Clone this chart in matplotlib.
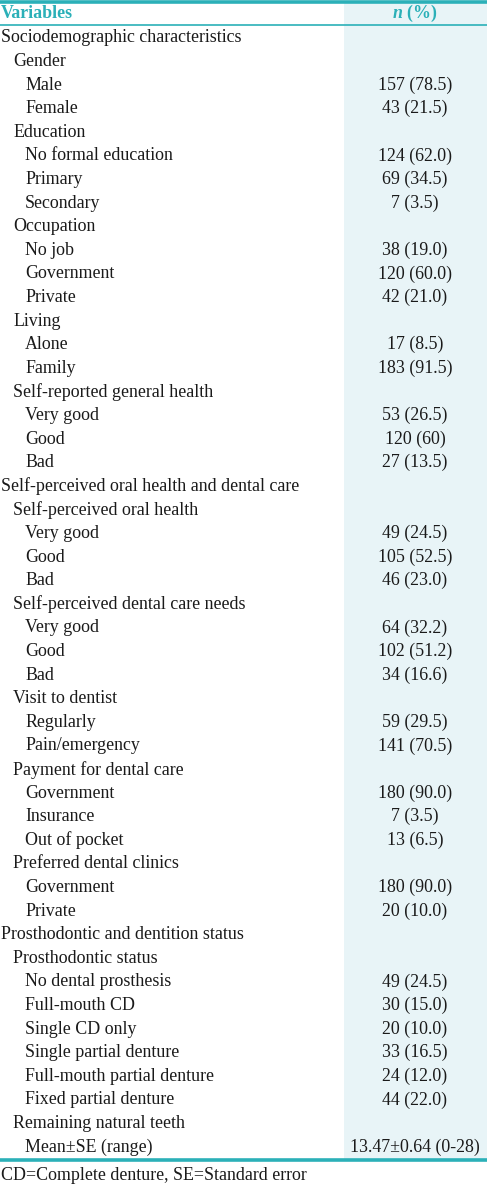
"""Table: sociodemographic, oral health and prosthodontic characteristics."""

import matplotlib

matplotlib.use("Agg")
import matplotlib.pyplot as plt  # noqa: E402

plt.rcParams["font.family"] = ["Liberation Serif", "DejaVu Serif"]
plt.rcParams["mathtext.fontset"] = "custom"
plt.rcParams["mathtext.bfit"] = "Liberation Serif:italic:bold"
plt.rcParams["mathtext.rm"] = "Liberation Serif"

TEAL = "#2bb0b8"
COL_BG = "#e8f4f7"
INK = "#1a1a1a"

labels = [
    "Sociodemographic characteristics", "Gender", "Male", "Female",
    "Education", "No formal education", "Primary", "Secondary",
    "Occupation", "No job", "Government", "Private",
    "Living", "Alone", "Family",
    "Self-reported general health", "Very good", "Good", "Bad",
    "Self-perceived oral health and dental care",
    "Self-perceived oral health", "Very good", "Good", "Bad",
    "Self-perceived dental care needs", "Very good", "Good", "Bad",
    "Visit to dentist", "Regularly", "Pain/emergency",
    "Payment for dental care", "Government", "Insurance", "Out of pocket",
    "Preferred dental clinics", "Government", "Private",
    "Prosthodontic and dentition status", "Prosthodontic status",
    "No dental prosthesis", "Full-mouth CD", "Single CD only",
    "Single partial denture", "Full-mouth partial denture",
    "Fixed partial denture", "Remaining natural teeth", "Mean\u00b1SE (range)",
]
levels = [
    0, 1, 2, 2,
    1, 2, 2, 2,
    1, 2, 2, 2,
    1, 2, 2,
    1, 2, 2, 2,
    0,
    1, 2, 2, 2,
    1, 2, 2, 2,
    1, 2, 2,
    1, 2, 2, 2,
    1, 2, 2,
    0, 1,
    2, 2, 2,
    2, 2,
    2, 1, 2,
]
values = [
    "", "", "157 (78.5)", "43 (21.5)",
    "", "124 (62.0)", "69 (34.5)", "7 (3.5)",
    "", "38 (19.0)", "120 (60.0)", "42 (21.0)",
    "", "17 (8.5)", "183 (91.5)",
    "", "53 (26.5)", "120 (60)", "27 (13.5)",
    "",
    "", "49 (24.5)", "105 (52.5)", "46 (23.0)",
    "", "64 (32.2)", "102 (51.2)", "34 (16.6)",
    "", "59 (29.5)", "141 (70.5)",
    "", "180 (90.0)", "7 (3.5)", "13 (6.5)",
    "", "180 (90.0)", "20 (10.0)",
    "", "",
    "49 (24.5)", "30 (15.0)", "20 (10.0)",
    "33 (16.5)", "24 (12.0)",
    "44 (22.0)", "", "13.47\u00b10.64 (0-28)",
]
footnote = "CD=Complete denture, SE=Standard error"

W, H = 487, 1185
fig = plt.figure(figsize=(W / 100, H / 100), dpi=100)
ax = fig.add_axes([0, 0, 1, 1])
ax.set_xlim(0, W)
ax.set_ylim(H, 0)
ax.axis("off")

fs = 12.9

# shaded value column
ax.axvspan(344, W, ymin=1 - 1160 / H, ymax=1 - 2 / H, color=COL_BG, lw=0, zorder=0)

# rules
ax.axhline(1.5, color=TEAL, lw=2.6)
ax.axhline(24.5, color=TEAL, lw=1.2)
ax.axhline(1160, color=TEAL, lw=2.6)

# header
ax.text(1, 13, "Variables", fontsize=fs, fontweight="bold", color=TEAL,
        va="center", ha="left")
ax.text(415, 13, r"$\mathbfit{n}$ (%)", fontsize=fs, fontweight="bold",
        color=TEAL, va="center", ha="center")

y0, dy = 38, 23.6
for i, (lab, lev, val) in enumerate(zip(labels, levels, values)):
    y = y0 + i * dy
    ax.text(1 + lev * 12, y, lab, fontsize=fs, va="center", ha="left", color=INK)
    if val:
        ax.text(415, y, val, fontsize=fs, va="center", ha="center", color=INK)

ax.text(1, 1175, footnote, fontsize=fs, va="center", ha="left", color=INK)

fig.savefig("out.png", dpi=100)
